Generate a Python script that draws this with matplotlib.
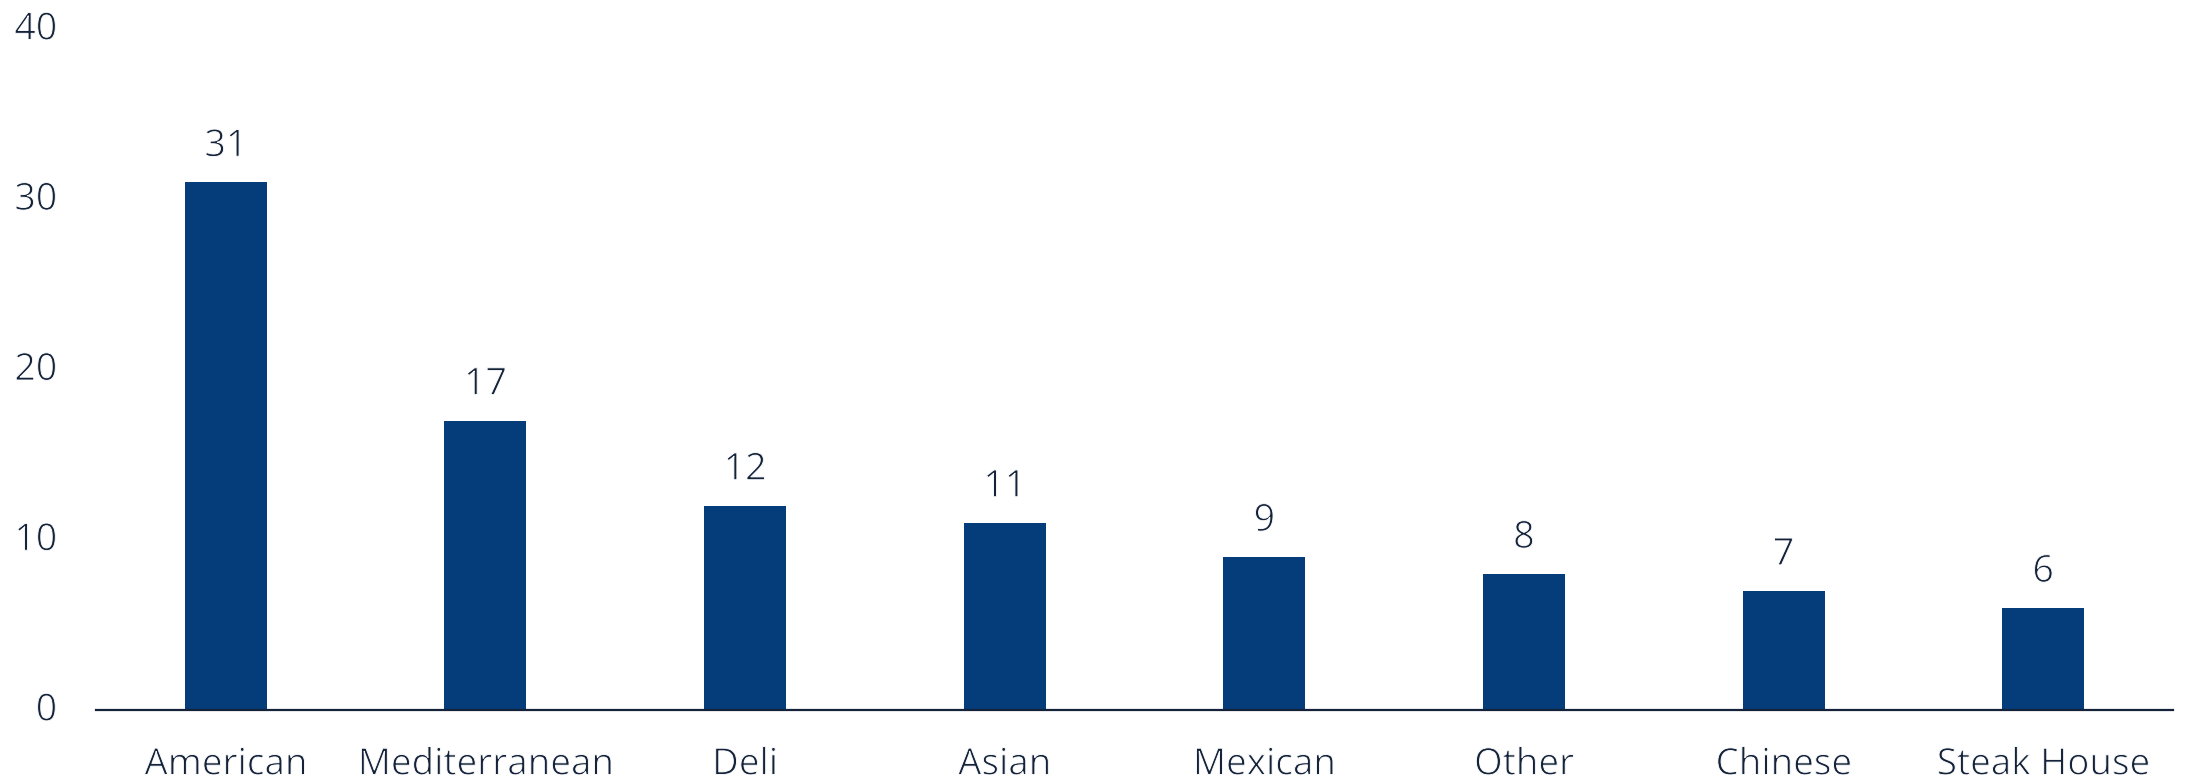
import matplotlib
matplotlib.use("Agg")
import matplotlib.pyplot as plt
import matplotlib.patheffects as pe
import matplotlib.transforms as mtransforms

categories = ["American", "Mediterranean", "Deli", "Asian", "Mexican", "Other", "Chinese", "Steak House"]
values = [31, 17, 12, 11, 9, 8, 7, 6]
yticks = [0, 10, 20, 30, 40]

W, H, DPI = 2185, 782, 100
fig = plt.figure(figsize=(W / DPI, H / DPI), dpi=DPI)
left, right = 96 / W, 2173 / W
bottom = 1 - 710 / H
top = 1 - 29 / H
ax = fig.add_axes([left, bottom, right - left, top - bottom])

bar_color = "#043d7a"
text_color = "#14233a"
# Thin the regular Open Sans outlines to mimic the light weight
thin = [pe.Stroke(linewidth=0.65, foreground="white")]
font = dict(family=["Open Sans", "DejaVu Sans"], path_effects=thin)

x = list(range(len(categories)))
ax.bar(x, values, width=0.316, color=bar_color, zorder=2)
for xi, v in zip(x, values):
    ax.annotate(str(v), (xi, v), xytext=(0, 17), textcoords="offset pixels",
                ha="center", va="bottom", fontsize=27, color=text_color, **font)

ax.set_xlim(-0.5, len(categories) - 0.5)
ax.set_ylim(0, 40)
ax.set_yticks(yticks)
ax.set_yticklabels([str(t) for t in yticks], fontsize=27, color=text_color, **font)
ax.set_xticks(x)
ax.set_xticklabels(categories, fontsize=26.5, color=text_color, **font)
ax.tick_params(axis="y", length=0, pad=28)
ax.tick_params(axis="x", length=0, pad=27)

shift = mtransforms.ScaledTranslation(0, 4 / DPI, fig.dpi_scale_trans)
for lbl in ax.get_yticklabels():
    lbl.set_transform(lbl.get_transform() + shift)

for s in ["top", "right", "left"]:
    ax.spines[s].set_visible(False)
ax.spines["bottom"].set_color(text_color)
ax.spines["bottom"].set_linewidth(1.6)
ax.spines["bottom"].set_zorder(3)

fig.savefig("out.png", dpi=DPI, facecolor="white")
